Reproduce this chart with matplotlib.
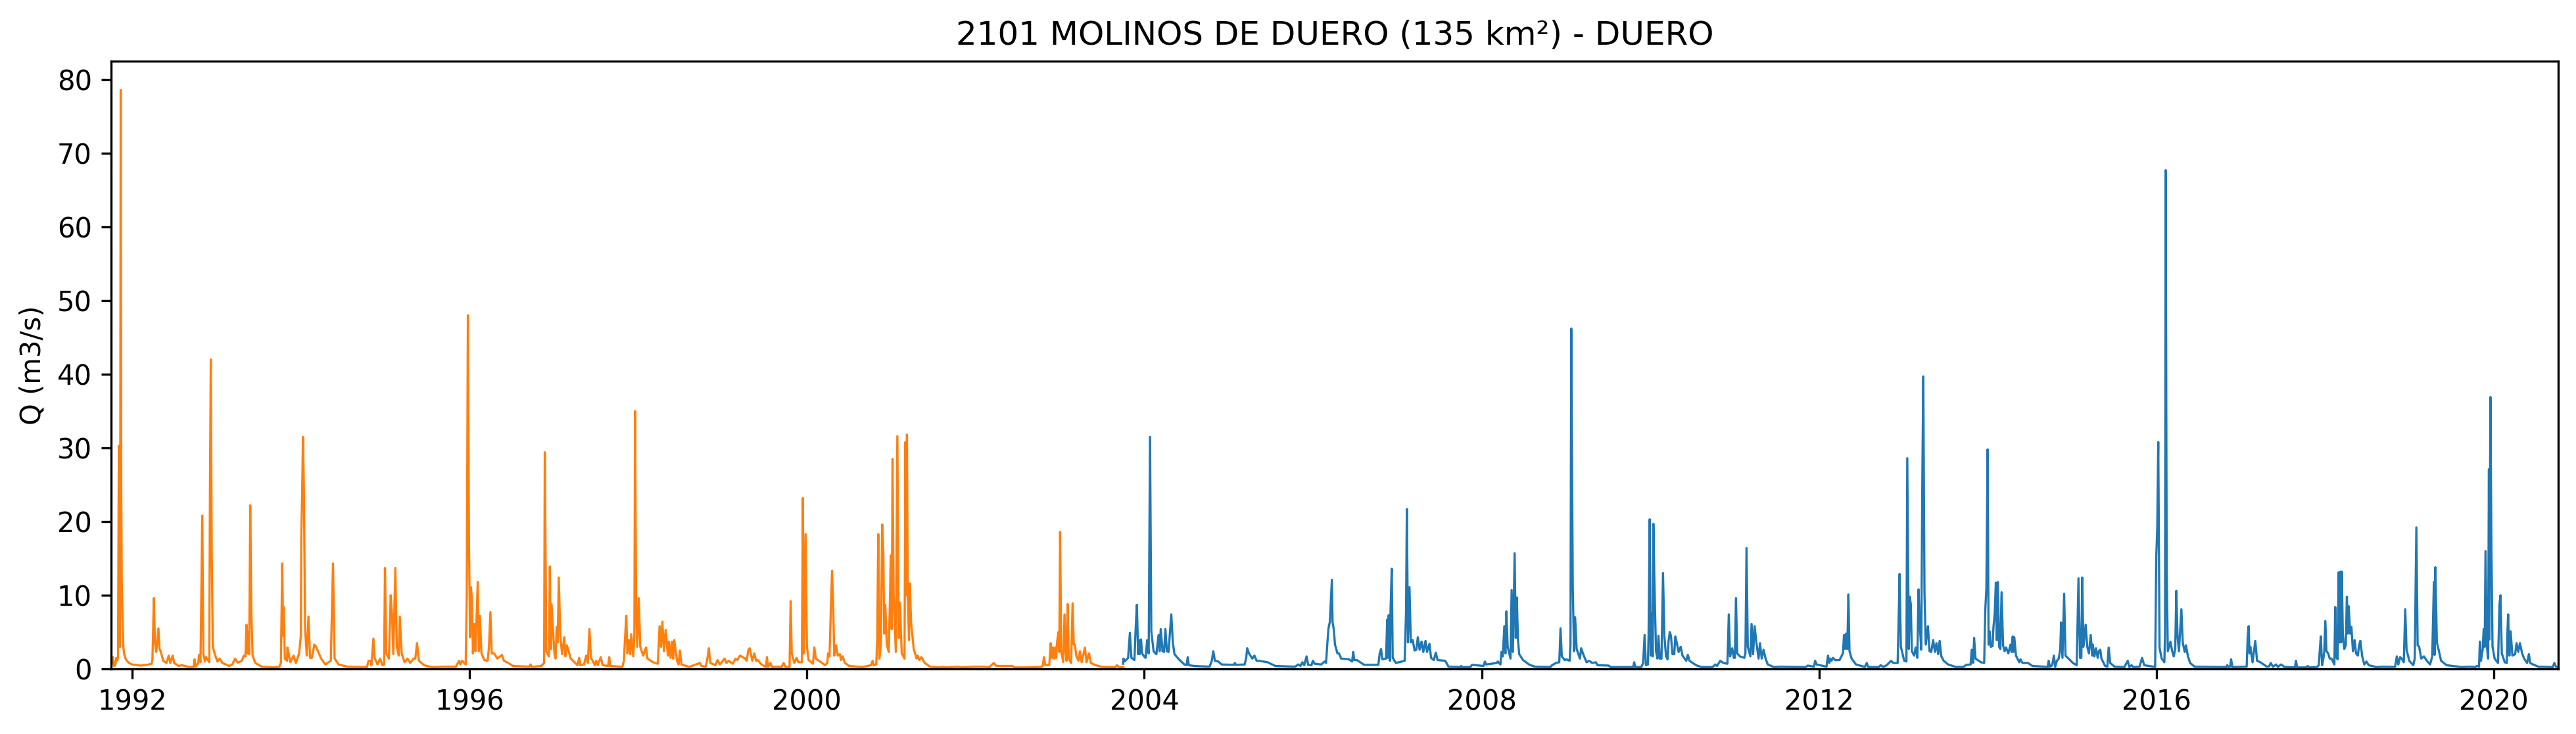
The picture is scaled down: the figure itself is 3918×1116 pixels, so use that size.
import matplotlib
matplotlib.use("Agg")
import matplotlib.pyplot as plt

# (decimal year, Q m3/s), one list per stretch of the record
orange_1991_95 = [
    (1991.750,0.3),(1991.772,1.6),(1991.785,0.4),(1991.800,0.5),(1991.812,1.5),(1991.825,1.2),(1991.832,1.5),
    (1991.842,30.3),(1991.848,8),(1991.856,3),(1991.864,78.6),(1991.870,25),(1991.876,12),(1991.888,6.0),
    (1991.895,3),(1991.905,2.0),(1991.925,1.3),(1991.960,0.8),(1992.000,0.6),(1992.100,0.45),(1992.180,0.55),
    (1992.230,0.7),(1992.240,1.3),(1992.257,9.6),(1992.270,3.6),(1992.285,2.3),(1992.311,5.5),(1992.324,2.7),
    (1992.337,2.4),(1992.368,1.1),(1992.407,0.8),(1992.433,1.8),(1992.452,0.8),(1992.480,1.8),(1992.498,0.8),
    (1992.550,0.4),(1992.589,0.5),(1992.654,0.3),(1992.727,0.25),(1992.740,1.3),(1992.753,0.3),(1992.784,0.8),
    (1992.792,1.9),(1992.810,0.9),(1992.831,20.8),(1992.844,2.1),(1992.862,1.0),(1992.875,1.6),(1992.914,0.9),
    (1992.922,24.4),(1992.932,42.0),(1992.943,16),(1992.956,3),(1992.980,2),(1993.010,1),(1993.036,1.4),
    (1993.070,0.8),(1993.148,0.4),(1993.187,0.6),(1993.220,1.4),(1993.252,0.85),(1993.300,1.1),(1993.324,1.8),
    (1993.343,1.7),(1993.355,6),(1993.366,2.1),(1993.376,5),(1993.387,2),(1993.400,22.2),(1993.413,7.5),
    (1993.428,1.8),(1993.460,0.8),(1993.537,0.3),(1993.667,0.2),(1993.745,0.3),(1993.763,0.8),(1993.779,14.3),
    (1993.790,4.5),(1993.797,8.4),(1993.810,1.4),(1993.836,1.1),(1993.840,2.9),(1993.855,2.1),(1993.875,0.9),
    (1993.914,1.8),(1993.940,0.8),(1993.979,2.1),(1994.000,4.5),(1994.005,18),(1994.015,23.7),(1994.025,31.5),
    (1994.036,24.3),(1994.050,5.4),(1994.070,1.8),(1994.090,7.1),(1994.109,1.5),(1994.130,1.5),(1994.160,3.3),
    (1994.180,3),(1994.240,1.4),(1994.290,0.6),(1994.355,1.1),(1994.381,14.3),(1994.400,1.4),(1994.447,0.6),
    (1994.550,0.3),(1994.784,0.25),(1994.802,1.1),(1994.830,1.1),(1994.836,0.5),(1994.860,4.1),(1994.875,1.5),
    (1994.908,0.6),(1994.940,1.4),(1994.966,0.5),(1994.987,0.6),(1994.997,13.7),(1995.013,2.1),(1995.044,1.4),
    (1995.065,10),(1995.080,7.5),(1995.096,2),(1995.120,13.7),(1995.137,3),(1995.160,1.8),(1995.173,7.1),
    (1995.195,2.1),(1995.230,0.9),(1995.264,1.4),(1995.297,0.8),(1995.335,1.4),
]
orange_1995_98 = [
    (1995.357,1.4),(1995.377,3.5),(1995.400,1.1),(1995.460,0.5),(1995.550,0.25),(1995.707,0.3),(1995.837,0.3),
    (1995.876,1.1),(1995.890,0.6),(1995.910,1.1),(1995.954,0.6),(1995.967,10),(1995.980,48),(1995.993,17.4),
    (1996.006,4.3),(1996.016,11.1),(1996.030,9.3),(1996.040,2.1),(1996.055,6.1),(1996.070,2.4),(1996.097,11.8),
    (1996.110,2.4),(1996.123,7.2),(1996.141,2.1),(1996.175,1.2),(1996.214,1.1),(1996.230,2.9),(1996.247,7.7),
    (1996.263,2.1),(1996.292,2.1),(1996.330,1.4),(1996.383,1.9),(1996.408,1.1),(1996.460,0.8),(1996.513,0.4),
    (1996.707,0.3),(1996.723,0.6),(1996.738,0.27),(1996.850,0.4),(1996.884,0.8),(1996.892,29.4),(1996.910,2.4),
    (1996.941,1.7),(1996.952,13.9),(1996.964,2.7),(1996.972,8.8),(1996.985,6.3),(1997.006,2.1),(1997.020,1.4),
    (1997.033,5.7),(1997.045,3.6),(1997.058,12.4),(1997.076,4.5),(1997.097,2),(1997.123,4.3),(1997.136,1.7),
    (1997.154,3.2),(1997.200,1.4),(1997.279,0.5),(1997.300,1.5),(1997.313,0.5),(1997.357,0.6),(1997.383,1.8),
    (1997.403,0.8),(1997.421,5.4),(1997.440,1.5),(1997.486,0.5),(1997.500,1.1),(1997.520,0.5),(1997.556,1.6),
    (1997.578,0.5),(1997.643,0.4),(1997.656,1.6),(1997.668,0.4),(1997.811,0.27),(1997.830,1.1),(1997.845,4.5),
    (1997.858,7.2),(1997.871,2.1),(1997.889,3.9),(1997.905,2),(1997.917,4.7),(1997.941,1.7),(1997.954,4.5),
    (1997.962,35),(1997.975,9),(1997.988,3),(1998.006,9.6),(1998.024,3),(1998.058,1.8),(1998.092,2.9),
    (1998.110,1.4),(1998.175,0.9),(1998.232,0.7),(1998.253,5.8),(1998.270,3),(1998.286,6.4),(1998.305,2.4),
    (1998.325,5.3),(1998.351,1.8),(1998.364,3.7),(1998.383,1.5),(1998.400,3.7),(1998.414,1.4),(1998.427,3.9),
    (1998.460,1.1),(1998.478,0.6),(1998.494,2.5),(1998.512,0.6),(1998.603,0.27),(1998.731,0.8),(1998.750,0.4),
    (1998.798,0.3),(1998.816,1.1),(1998.837,2.8),(1998.855,0.8),(1998.915,0.5),(1998.940,1.2),(1998.967,0.6),
]
orange_1999_03 = [
    (1999.025,1.4),(1999.046,0.8),(1999.072,1.1),(1999.119,0.7),(1999.155,1.4),(1999.175,1.2),(1999.207,1.8),
    (1999.267,1.4),(1999.285,1.1),(1999.306,2.6),(1999.321,2.8),(1999.352,1.1),(1999.376,2.1),(1999.397,1.1),
    (1999.415,1.2),(1999.462,0.6),(1999.513,0.27),(1999.526,1.6),(1999.539,0.27),(1999.568,0.8),(1999.585,0.27),
    (1999.670,0.3),(1999.695,0.2),(1999.724,0.8),(1999.747,0.27),(1999.794,0.27),(1999.807,9.2),(1999.820,2.1),
    (1999.851,0.8),(1999.877,1.5),(1999.898,0.9),(1999.940,0.9),(1999.952,23.2),(1999.965,2.1),(1999.984,18.3),
    (2000.000,3),(2000.020,1.2),(2000.072,0.7),(2000.087,2.9),(2000.106,1.4),(2000.215,0.5),(2000.241,0.8),
    (2000.251,2.1),(2000.268,1.7),(2000.285,8.7),(2000.298,13.3),(2000.311,8.7),(2000.324,1.8),(2000.345,3.2),
    (2000.366,1.8),(2000.390,2),(2000.405,1.2),(2000.423,1.7),(2000.450,0.8),(2000.500,0.4),(2000.656,0.25),
    (2000.760,0.5),(2000.778,1.1),(2000.794,0.5),(2000.822,0.6),(2000.833,3.8),(2000.846,18.3),(2000.859,1.4),
    (2000.877,3.3),(2000.892,19.6),(2000.906,16),(2000.916,4.8),(2000.929,8.7),(2000.947,3.3),(2000.970,2.3),
    (2000.984,9.4),(2000.994,15.4),(2001.005,5.4),(2001.015,28.5),(2001.028,10),(2001.054,2.3),(2001.072,31.6),
    (2001.088,4.2),(2001.103,9),(2001.124,2.1),(2001.157,1.4),(2001.168,30.8),(2001.177,10),(2001.186,31.8),
    (2001.195,10.4),(2001.210,3.9),(2001.220,11.6),(2001.235,6.3),(2001.266,2.7),(2001.300,1.4),(2001.313,1.8),
    (2001.332,1.2),(2001.357,1.6),(2001.397,0.8),(2001.460,0.3),(2001.566,0.2),(2001.622,0.27),(2001.640,0.2),
    (2001.800,0.3),(2001.820,0.2),(2001.980,0.3),(2002.100,0.3),(2002.165,0.25),(2002.215,0.8),(2002.245,0.4),
    (2002.435,0.4),(2002.460,0.2),(2002.630,0.2),(2002.774,0.27),(2002.795,0.4),(2002.810,1.6),(2002.826,0.5),
    (2002.873,0.5),(2002.891,3.5),(2002.904,1.5),(2002.917,2.9),(2002.930,1.4),(2002.943,2.9),(2002.955,1.5),
    (2002.966,3.7),(2002.982,5),(2002.992,2.3),(2003.002,18.6),(2003.015,2.4),(2003.039,0.9),(2003.054,7.4),
    (2003.070,2.1),(2003.078,1.1),(2003.091,8.8),(2003.104,1.4),(2003.132,0.8),(2003.150,8.9),(2003.164,3.3),
    (2003.177,3.3),(2003.195,1.7),(2003.220,1.1),(2003.236,2.4),(2003.257,0.9),(2003.296,2.9),(2003.315,0.9),
    (2003.345,2.1),(2003.366,0.8),(2003.423,0.5),(2003.500,0.27),(2003.657,0.25),(2003.675,0.5),(2003.696,0.27),
    (2003.753,0.2),
]
blue_2003_06 = [
    (2003.748,0.7),(2003.753,1.4),(2003.766,1),(2003.808,1.5),(2003.829,4.9),(2003.847,1.5),(2003.883,1.2),
    (2003.896,5.1),(2003.912,8.7),(2003.927,2),(2003.937,3.9),(2003.945,2),(2003.961,4),(2003.974,2.1),
    (2003.997,1.7),(2004.015,1.5),(2004.034,3.9),(2004.052,2.1),(2004.068,31.5),(2004.083,5.1),(2004.110,2.4),
    (2004.143,2),(2004.169,4.6),(2004.182,2.4),(2004.195,5.4),(2004.216,2.4),(2004.234,2.3),(2004.250,5.4),
    (2004.268,2.4),(2004.288,2.3),(2004.300,4.3),(2004.320,7.4),(2004.338,3.6),(2004.358,2),(2004.410,1.3),
    (2004.475,0.6),(2004.500,0.5),(2004.515,1.6),(2004.527,0.5),(2004.592,0.4),(2004.774,0.3),(2004.800,1.1),
    (2004.818,2.4),(2004.837,1.1),(2004.878,1),(2004.917,0.6),(2005.060,0.55),(2005.073,0.8),(2005.086,0.55),
    (2005.190,0.6),(2005.208,1.5),(2005.220,2.8),(2005.241,2.1),(2005.280,1.4),(2005.306,1.8),(2005.332,1.1),
    (2005.358,1.1),(2005.462,0.9),(2005.553,0.4),(2005.787,0.3),(2005.826,0.6),(2005.852,0.4),(2005.873,0.9),
    (2005.896,0.5),(2005.924,1.7),(2005.943,0.55),(2005.982,0.5),(2005.999,1.1),(2006.020,0.7),(2006.098,0.6),
    (2006.137,1),(2006.155,0.8),(2006.171,3.6),(2006.184,5.5),(2006.200,6.4),
]
blue_2006_09 = [
    (2006.224,12.1),(2006.232,6.3),(2006.246,5.4),(2006.261,3.3),(2006.290,2.1),(2006.308,2.1),(2006.334,1.4),
    (2006.425,1.3),(2006.464,1),(2006.477,2.3),(2006.490,1.2),(2006.520,1.2),(2006.607,0.55),(2006.775,0.55),
    (2006.791,2.1),(2006.807,2.7),(2006.822,1.3),(2006.866,1.4),(2006.880,6.7),(2006.890,1.5),(2006.898,7.3),
    (2006.912,1.1),(2006.920,8.2),(2006.934,13.6),(2006.945,1.5),(2006.983,0.8),(2007.087,1.1),(2007.103,7.6),
    (2007.113,21.7),(2007.126,3.6),(2007.144,11.1),(2007.160,3.6),(2007.183,3.9),(2007.204,2.5),(2007.225,2.6),
    (2007.243,4.3),(2007.264,2.6),(2007.287,3.7),(2007.308,2.3),(2007.334,3.8),(2007.352,2.3),(2007.381,3.4),
    (2007.400,1.5),(2007.433,1.2),(2007.456,2.2),(2007.477,1.2),(2007.568,1.1),(2007.607,0.3),(2007.750,0.25),
    (2007.758,0.4),(2007.768,0.25),(2007.866,0.25),(2007.885,0.55),(2008.022,0.4),(2008.038,1),(2008.053,0.6),
    (2008.178,0.8),(2008.191,1),(2008.222,0.6),(2008.235,2.3),(2008.250,1.7),(2008.269,5.8),(2008.282,2.1),
    (2008.293,7.8),(2008.308,3),(2008.342,1.4),(2008.355,10.7),(2008.370,2.3),(2008.391,15.7),(2008.404,4.2),
    (2008.417,9.7),(2008.430,4),(2008.445,2),(2008.490,1.2),(2008.568,0.55),(2008.633,0.3),(2008.815,0.25),
    (2008.835,0.5),(2008.880,0.8),(2008.920,0.9),(2008.935,5.5),(2008.950,1.7),(2008.984,1.2),(2009.003,1.3),
    (2009.043,1.1),(2009.053,3.3),(2009.062,46.2),(2009.080,11.1),(2009.095,2.4),(2009.108,7),(2009.126,2.7),
    (2009.165,1.4),(2009.180,2.8),(2009.204,2),(2009.243,0.9),(2009.275,1.1),(2009.310,0.8),(2009.353,0.9),
    (2009.374,0.5),(2009.504,0.45),(2009.530,0.25),(2009.797,0.25),(2009.808,0.9),(2009.820,0.25),
]
blue_2009_13 = [
    (2009.893,0.25),(2009.914,0.8),(2009.932,4.6),(2009.947,0.5),(2009.971,0.6),(2009.979,4.5),(2009.992,20.3),
    (2010.005,1.8),(2010.018,7.5),(2010.028,1.7),(2010.036,19.7),(2010.046,13.1),(2010.054,8.7),(2010.067,2.4),
    (2010.083,1.4),(2010.096,4.5),(2010.111,1.4),(2010.132,1.4),(2010.150,13),(2010.166,4.5),(2010.186,1.7),
    (2010.205,1.3),(2010.215,3.7),(2010.230,5),(2010.244,4.5),(2010.262,2),(2010.283,2),(2010.296,4.4),
    (2010.314,3.5),(2010.335,2.3),(2010.360,3),(2010.381,1.8),(2010.425,1.1),(2010.444,1.9),(2010.464,1.1),
    (2010.542,0.5),(2010.607,0.25),(2010.737,0.25),(2010.770,0.6),(2010.790,0.4),(2010.828,1.1),(2010.867,0.8),
    (2010.914,0.7),(2010.930,7.4),(2010.945,1.7),(2010.971,2.8),(2010.989,1.5),(2011.002,1.5),(2011.015,9.6),
    (2011.030,2.1),(2011.062,1.7),(2011.114,1.5),(2011.127,2.1),(2011.140,16.4),(2011.155,3),(2011.186,1.7),
    (2011.200,6.1),(2011.218,2),(2011.236,5.8),(2011.257,3.6),(2011.283,1.4),(2011.300,3.5),(2011.320,1.4),
    (2011.342,2.6),(2011.366,1.4),(2011.392,0.6),(2011.465,0.25),(2011.543,0.3),(2011.672,0.27),(2011.841,0.25),
    (2011.867,0.45),(2011.940,0.3),(2011.953,1.1),(2011.971,0.6),(2012.088,0.3),(2012.106,1.8),(2012.122,0.8),
    (2012.135,1.4),(2012.148,1.1),(2012.166,1.5),(2012.192,1.2),(2012.243,1.2),(2012.283,2.1),(2012.296,4.6),
    (2012.308,2.7),(2012.320,4.8),(2012.335,2.7),(2012.348,10.1),(2012.361,2.4),(2012.386,1.4),(2012.438,0.6),
    (2012.542,0.27),(2012.566,0.8),(2012.582,0.27),(2012.710,0.25),(2012.730,0.5),(2012.763,0.27),(2012.802,0.5),
    (2012.854,1.1),(2012.880,0.8),(2012.932,0.8),(2012.942,5.8),(2012.955,12.9),(2012.970,3),(2013.010,1.1),
    (2013.036,1),(2013.046,28.6),(2013.064,2.7),(2013.075,9.8),(2013.088,8.8),(2013.100,2.4),(2013.127,1.8),
    (2013.145,2.9),(2013.166,1.5),(2013.179,10.8),(2013.194,6),(2013.212,2.6),(2013.225,26.2),(2013.236,39.7),
    (2013.250,10.4),(2013.265,3.3),(2013.291,5.8),(2013.310,2.4),(2013.330,2.3),(2013.353,3.9),(2013.374,2.3),
    (2013.392,3.5),(2013.413,2),(2013.430,3.8),(2013.450,1.7),
]
blue_2013_17 = [
    (2013.478,1.1),(2013.530,0.6),(2013.620,0.27),(2013.712,0.27),(2013.745,0.55),(2013.797,0.6),(2013.810,2.6),
    (2013.826,0.8),(2013.839,4.2),(2013.855,1.4),(2013.920,0.9),(2013.958,0.8),(2013.971,8),(2013.984,11),
    (2013.999,29.8),(2014.010,3.3),(2014.023,5.1),(2014.036,3),(2014.057,3.1),(2014.068,5.7),(2014.083,7.5),
    (2014.096,11.7),(2014.107,3.9),(2014.120,11.8),(2014.135,3),(2014.150,2.7),(2014.164,10.4),(2014.182,3.2),
    (2014.200,2.4),(2014.218,2.9),(2014.244,2.1),(2014.270,3.3),(2014.283,2.3),(2014.296,4.4),(2014.304,2.3),
    (2014.315,4.3),(2014.335,1.8),(2014.374,0.9),(2014.387,1.3),(2014.413,0.8),(2014.478,0.8),(2014.530,0.4),
    (2014.712,0.27),(2014.722,1.1),(2014.738,0.27),(2014.764,0.5),(2014.784,1.8),(2014.800,0.27),(2014.820,1.1),
    (2014.842,1.4),(2014.860,2.7),(2014.870,6.3),(2014.886,1.5),(2014.906,10.2),(2014.922,1.8),(2014.958,1.4),
    (2015.010,0.8),(2015.055,0.5),(2015.076,12.3),(2015.094,1.5),(2015.110,1.5),(2015.120,12.4),(2015.135,3),
    (2015.161,6),(2015.180,3),(2015.200,2.1),(2015.221,4.6),(2015.240,1.8),(2015.245,3.3),(2015.265,1.7),
    (2015.283,2.8),(2015.304,1.5),(2015.317,2.4),(2015.335,2.6),(2015.348,1.4),(2015.392,0.4),(2015.418,0.3),
    (2015.434,2.9),(2015.452,0.8),(2015.504,0.3),(2015.620,0.25),(2015.660,1.1),(2015.678,0.27),(2015.705,0.5),
    (2015.725,0.25),(2015.800,0.3),(2015.830,1.5),(2015.855,0.5),(2015.985,0.27),(2015.998,15.2),(2016.010,19.1),
    (2016.022,30.8),(2016.037,2.9),(2016.062,1.4),(2016.094,0.9),(2016.102,4.5),(2016.110,67.7),(2016.122,13.4),
    (2016.135,2.4),(2016.166,3.7),(2016.187,2.4),(2016.205,1.7),(2016.223,2.7),(2016.236,10.6),(2016.250,4.5),
    (2016.267,2.4),(2016.282,5.4),(2016.296,8.1),(2016.312,3.6),(2016.335,2.3),(2016.350,3.2),(2016.374,1.7),
    (2016.400,0.8),(2016.452,0.3),(2016.830,0.25),(2016.840,0.5),(2016.857,0.25),(2016.873,0.3),(2016.886,1.3),
    (2016.900,0.25),(2017.070,0.3),(2017.083,4.5),(2017.094,5.8),(2017.104,2.1),(2017.114,3),
]
blue_2017_20 = [
    (2017.140,0.9),(2017.172,3.8),(2017.193,1.1),(2017.232,0.9),(2017.310,0.3),(2017.336,0.35),(2017.356,0.8),
    (2017.380,0.3),(2017.420,0.6),(2017.440,0.27),(2017.479,0.6),(2017.518,0.27),(2017.642,0.2),(2017.655,1.1),
    (2017.668,0.2),(2017.777,0.2),(2017.793,0.4),(2017.808,0.2),(2017.907,0.27),(2017.925,0.5),(2017.936,2.4),
    (2017.949,4.4),(2017.964,0.5),(2017.980,1.4),(2017.990,2.4),(2018.003,6.5),(2018.016,2.4),(2018.037,2.1),
    (2018.055,1.4),(2018.076,1.4),(2018.110,0.6),(2018.120,8.4),(2018.136,1.5),(2018.149,1.3),(2018.160,13.1),
    (2018.172,3.6),(2018.180,13.2),(2018.190,3.6),(2018.198,13.2),(2018.210,4.8),(2018.227,2.7),(2018.245,3.2),
    (2018.258,9.8),(2018.270,4.8),(2018.280,8.5),(2018.297,4.8),(2018.312,5.7),(2018.330,2.4),(2018.350,3.9),
    (2018.367,2.1),(2018.388,1.8),(2018.403,3.2),(2018.418,3.8),(2018.440,1.7),(2018.465,0.6),(2018.490,1),
    (2018.517,0.5),(2018.608,0.25),(2018.685,0.3),(2018.830,0.27),(2018.850,1.7),(2018.868,0.6),(2018.890,1.6),
    (2018.908,1.4),(2018.933,0.9),(2018.950,8.1),(2018.966,2.6),(2018.998,1.1),(2019.045,0.5),(2019.063,1.4),
    (2019.082,19.2),(2019.097,3.2),(2019.115,3),(2019.140,1.4),(2019.172,1.7),(2019.206,1.1),(2019.245,0.6),
    (2019.270,1.7),(2019.290,11.8),(2019.298,1.9),(2019.307,13.8),(2019.325,3.6),(2019.350,2.4),(2019.375,1.1),
    (2019.440,0.5),(2019.620,0.25),(2019.710,0.3),(2019.777,0.25),(2019.800,0.4),(2019.825,0.3),(2019.835,3.7),
    (2019.848,1.1),(2019.868,2.6),(2019.880,5.4),(2019.892,3),(2019.902,16),(2019.918,3),(2019.933,1.4),
    (2019.942,27.1),(2019.948,4),(2019.960,36.9),(2019.972,16.4),(2019.985,3),(2020.010,1.4),(2020.050,0.8),(2020.068,8.8),
    (2020.080,10),(2020.095,2.1),(2020.130,0.9),(2020.155,0.8),(2020.163,5.4),(2020.170,7.4),(2020.185,1.8),
    (2020.200,5.1),(2020.220,1.8),(2020.253,2),(2020.270,3.5),(2020.290,2.3),(2020.310,3.5),(2020.336,2.1),
    (2020.360,1.4),(2020.395,0.8),(2020.416,2),(2020.432,0.8),(2020.465,0.6),(2020.530,0.3),(2020.700,0.25),
    (2020.717,0.8),(2020.738,0.3),(2020.764,0.25),
]

year_ticks = [1992, 1996, 2000, 2004, 2008, 2012, 2016, 2020]
q_ticks = [0, 10, 20, 30, 40, 50, 60, 70, 80]
title = "2101 MOLINOS DE DUERO (135 km²) - DUERO"

orange = orange_1991_95 + orange_1995_98 + orange_1999_03
blue = blue_2003_06 + blue_2006_09 + blue_2009_13 + blue_2013_17 + blue_2017_20

fig = plt.figure(figsize=(13.06, 3.72), dpi=300)
ax = fig.add_axes([0.04313, 0.0887, 0.94997, 0.828])

ax.plot(*zip(*blue), color="C0", lw=0.8)
ax.plot(*zip(*orange), color="C1", lw=0.8)

ax.set_xlim(1991.75, 2020.764)
ax.set_ylim(0, 82.5)
ax.set_xticks(year_ticks)
ax.set_xticklabels([str(y) for y in year_ticks])
ax.set_yticks(q_ticks)
ax.set_ylabel("Q (m3/s)")
ax.set_title(title)

fig.savefig("out.png", dpi=300)
